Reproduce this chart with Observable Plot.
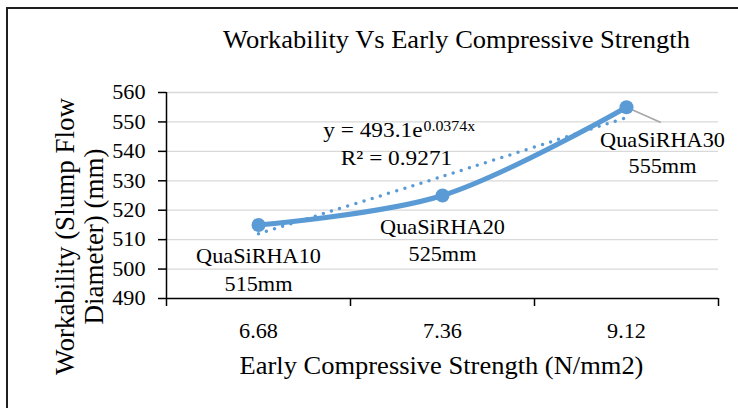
<!DOCTYPE html>
<html><head><meta charset="utf-8">
<script src="https://cdn.jsdelivr.net/npm/d3@7"></script>
<script src="https://cdn.jsdelivr.net/npm/@observablehq/plot@0.6"></script>
<style>
html,body{margin:0;padding:0;background:#fff;}
#wrap{position:relative;width:738px;height:408px;overflow:hidden;}
#border{position:absolute;left:6px;top:7px;width:800px;height:500px;border-left:2px solid #1f1f1f;border-top:2px solid #1f1f1f;pointer-events:none;}
</style></head><body>
<div id="wrap"><div id="chart"></div><div id="border"></div></div>
<script>
const categories = ["6.68", "7.36", "9.12"];
const names = ["QuaSiRHA10", "QuaSiRHA20", "QuaSiRHA30"];
const slump = [515, 525, 555];
const trendValues = [512, 531.5, 551.5];
const yTicks = [490, 500, 510, 520, 530, 540, 550, 560];
const title = "Workability Vs Early Compressive Strength";
const xTitle = "Early Compressive Strength (N/mm2)";
const yTitleLines = ["Workability (Slump Flow", "Diameter) (mm)"];
const eqMain = "y = 493.1e";
const eqExp = "0.0374x";
const r2Text = "R² = 0.9271";

const BLUE = "#5B9BD5";
const data = categories.map((c, i) => ({pos: i + 1, cat: c, name: names[i], value: slump[i], trend: trendValues[i]}));
const bounds = d3.range(0.5, categories.length + 1, 1);
const labelText = d => d.name + "\n" + d.value + "mm";
const leaderShape = {draw(context, l) { context.moveTo(0, 0); context.lineTo(0, -l); }};

const plot = Plot.plot({
  width: 738, height: 408,
  marginLeft: 166, marginRight: 20, marginTop: 92, marginBottom: 110,
  style: {fontFamily: "'Liberation Serif', 'Times New Roman', serif", color: "black", background: "white"},
  x: {domain: [0.5, categories.length + 0.5]},
  y: {domain: [yTicks[0], yTicks[yTicks.length - 1]]},
  marks: [
    Plot.ruleY(yTicks.slice(1), {stroke: "#d9d9d9", strokeWidth: 1.3}),
    Plot.ruleX([bounds[0]], {stroke: "black", strokeWidth: 1.5}),
    Plot.ruleY([yTicks[0]], {stroke: "black", strokeWidth: 1.5}),
    Plot.axisY({ticks: yTicks, tickSize: 8, tickPadding: 13, fontSize: 21, label: null, stroke: "black", strokeWidth: 1.5}),
    Plot.axisX({ticks: bounds, tickFormat: () => "", tickSize: 8, label: null, stroke: "black", strokeWidth: 1.5}),
    Plot.axisX({ticks: data.map(d => d.pos), tickFormat: p => categories[p - 1], tickSize: 0, tickPadding: 25, fontSize: 21, label: null}),
    Plot.vector([data[2]], {x: "pos", y: "value", length: 37, rotate: 114, anchor: "start", shape: leaderShape, stroke: "#a6a6a6", strokeWidth: 1.5}),
    Plot.line(data, {x: "pos", y: "value", stroke: BLUE, strokeWidth: 5, curve: "catmull-rom"}),
    Plot.dot(data, {x: "pos", y: "value", r: 7, fill: BLUE}),
    Plot.line(data, {x: "pos", y: "trend", stroke: BLUE, strokeWidth: 3.5, strokeDasharray: "0 8.5", strokeLinecap: "round", curve: "catmull-rom"}),
    Plot.text(data.slice(0, 2), {x: "pos", y: "value", text: labelText, fontSize: 21, lineAnchor: "top", lineHeight: 1.3, dy: 19}),
    Plot.text(data.slice(2), {x: "pos", y: "value", text: labelText, fontSize: 21, lineAnchor: "top", lineHeight: 1.22, dy: 22, dx: 36}),
    Plot.text([eqMain], {frameAnchor: "top-left", textAnchor: "end", lineAnchor: "top", fontSize: 22, dx: 256, dy: 29}),
    Plot.text([eqExp], {frameAnchor: "top-left", textAnchor: "start", lineAnchor: "top", fontSize: 15, dx: 257, dy: 28}),
    Plot.text([r2Text], {frameAnchor: "top-left", textAnchor: "middle", lineAnchor: "top", fontSize: 22, dx: 230, dy: 57}),
    Plot.text([title], {frameAnchor: "top", lineAnchor: "top", fontSize: 25, dx: 14, dy: -62}),
    Plot.text([xTitle], {frameAnchor: "bottom", lineAnchor: "top", fontSize: 25, dx: -1, dy: 58}),
    Plot.text([yTitleLines.join("\n")], {frameAnchor: "left", textAnchor: "middle", rotate: -90, lineAnchor: "middle", lineHeight: 1.05, fontSize: 27, dx: -87, dy: 41})
  ]
});

const STRETCH = 1.06;
plot.querySelectorAll("text").forEach(t => {
  if (t.closest('[transform*="rotate"]')) return;
  const tr = t.getAttribute("transform") || "";
  const x = parseFloat(t.getAttribute("x")) || 0;
  t.setAttribute("transform", `${tr} translate(${x},0) scale(${STRETCH},1) translate(${-x},0)`);
});

document.getElementById("chart").appendChild(plot);
</script>
</body></html>
